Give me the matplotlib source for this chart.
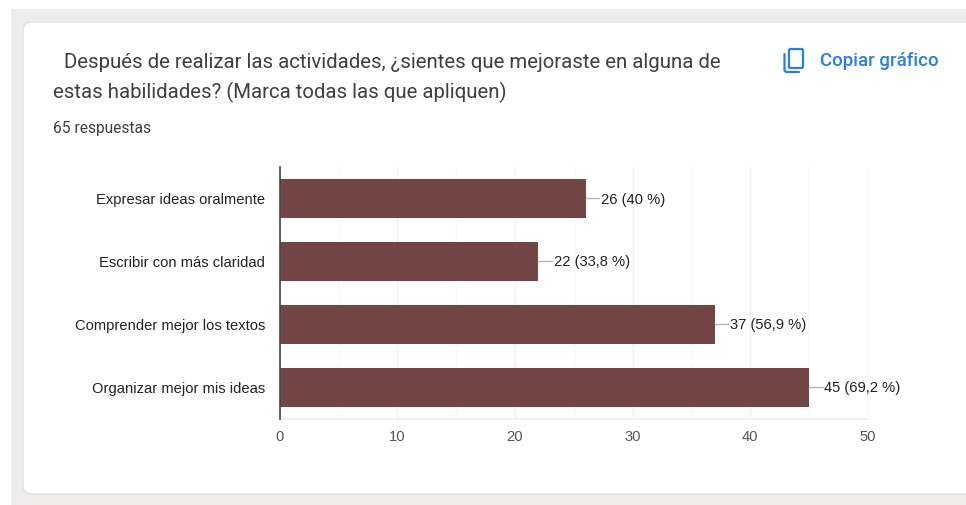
import matplotlib
matplotlib.use('Agg')
import matplotlib.pyplot as plt
from matplotlib.patches import FancyBboxPatch, Rectangle

W, H = 966, 505

categories = ['Expresar ideas oralmente', 'Escribir con más claridad',
              'Comprender mejor los textos', 'Organizar mejor mis ideas']
counts = [26, 22, 37, 45]
percents = ['40 %', '33,8 %', '56,9 %', '69,2 %']
x_ticks = [0, 10, 20, 30, 40, 50]
x_minor = [5, 15, 25, 35, 45]

title_1 = 'Después de realizar las actividades, ¿sientes que mejoraste en alguna de'
title_2 = 'estas habilidades? (Marca todas las que apliquen)'
subtitle = '65 respuestas'
copy_label = 'Copiar gráfico'

BAR = '#744545'
BLUE = '#2a7de9'

fig = plt.figure(figsize=(W / 100, H / 100), dpi=100, facecolor='white')

# fondo de la tarjeta, en pixeles
bg = fig.add_axes([0, 0, 1, 1])
bg.set_xlim(0, W)
bg.set_ylim(H, 0)
bg.axis('off')
bg.add_patch(Rectangle((11, 9), W - 11, H - 9, fc='#efecec', ec='none'))
bg.add_patch(FancyBboxPatch((31, 30), W + 40, 456, boxstyle='round,pad=8,rounding_size=9',
                            fc='white', ec='#e2e0e3', lw=1.0))

bg.text(64, 62, title_1, fontsize=14.65, family='Roboto', color='#3c4043', va='center', ha='left')
bg.text(53, 92, title_2, fontsize=14.65, family='Roboto', color='#3c4043', va='center', ha='left')
bg.text(53, 128, subtitle, fontsize=11.2, family='Roboto', color='#3c4043', va='center', ha='left')
bg.text(819.5, 60.5, copy_label, fontsize=13.4, family='Roboto', color=BLUE, va='center', ha='left',
        fontweight='medium')

# icono de copiar
bg.add_patch(FancyBboxPatch((789, 49), 14, 19, boxstyle='round,pad=0,rounding_size=1.5',
                            fc='none', ec=BLUE, lw=1.6))
bg.plot([784.5, 784.5, 786, 799], [54, 70.5, 72, 72], color=BLUE, lw=1.6, solid_capstyle='round')

# grafico
ax = fig.add_axes([279.6 / W, 1 - 418.6 / H, (868 - 279.6) / W, (418.6 - 167) / H])
ax.patch.set_alpha(0)
y = list(range(len(categories)))
ax.barh(y, counts, height=0.62, color=BAR, edgecolor='none', zorder=3)
ax.set_xlim(0, 50)
ax.set_ylim(len(categories) - 0.5, -0.5)

ax.set_xticks(x_ticks)
ax.set_xticks(x_minor, minor=True)
ax.set_yticks(y)
ax.set_yticklabels(categories)
ax.grid(True, axis='x', which='major', color='#f0f0f0', lw=1.0, zorder=0)
ax.grid(True, axis='x', which='minor', color='#f8f8f8', lw=1.0, zorder=0)
ax.tick_params(axis='both', which='both', length=0)
ax.tick_params(axis='x', pad=8.2, labelsize=10.6, labelcolor='#555555')
ax.tick_params(axis='y', pad=10.6, labelsize=10.6, labelcolor='#222222')
for t in ax.get_xticklabels() + ax.get_yticklabels():
    t.set_family('Liberation Sans')

for s in ['top', 'right']:
    ax.spines[s].set_visible(False)
ax.spines['bottom'].set_color('#f0f0f0')
ax.spines['bottom'].set_linewidth(1.2)
ax.spines['left'].set_color('#444444')
ax.spines['left'].set_linewidth(1.2)
ax.spines['left'].set_zorder(5)

# etiquetas con linea guia
for i, (c, p) in enumerate(zip(counts, percents)):
    ax.plot([c, c + 1.15], [i, i], color='#b5b5b5', lw=1.0, zorder=4, clip_on=False)
    ax.annotate(f'{c} ({p})', xy=(c, i), xytext=(11, -0.8), textcoords='offset points',
                fontsize=10.6, family='Liberation Sans', color='#222222',
                va='center', ha='left', zorder=5, annotation_clip=False)

fig.savefig('out.png', dpi=100, facecolor='white')
